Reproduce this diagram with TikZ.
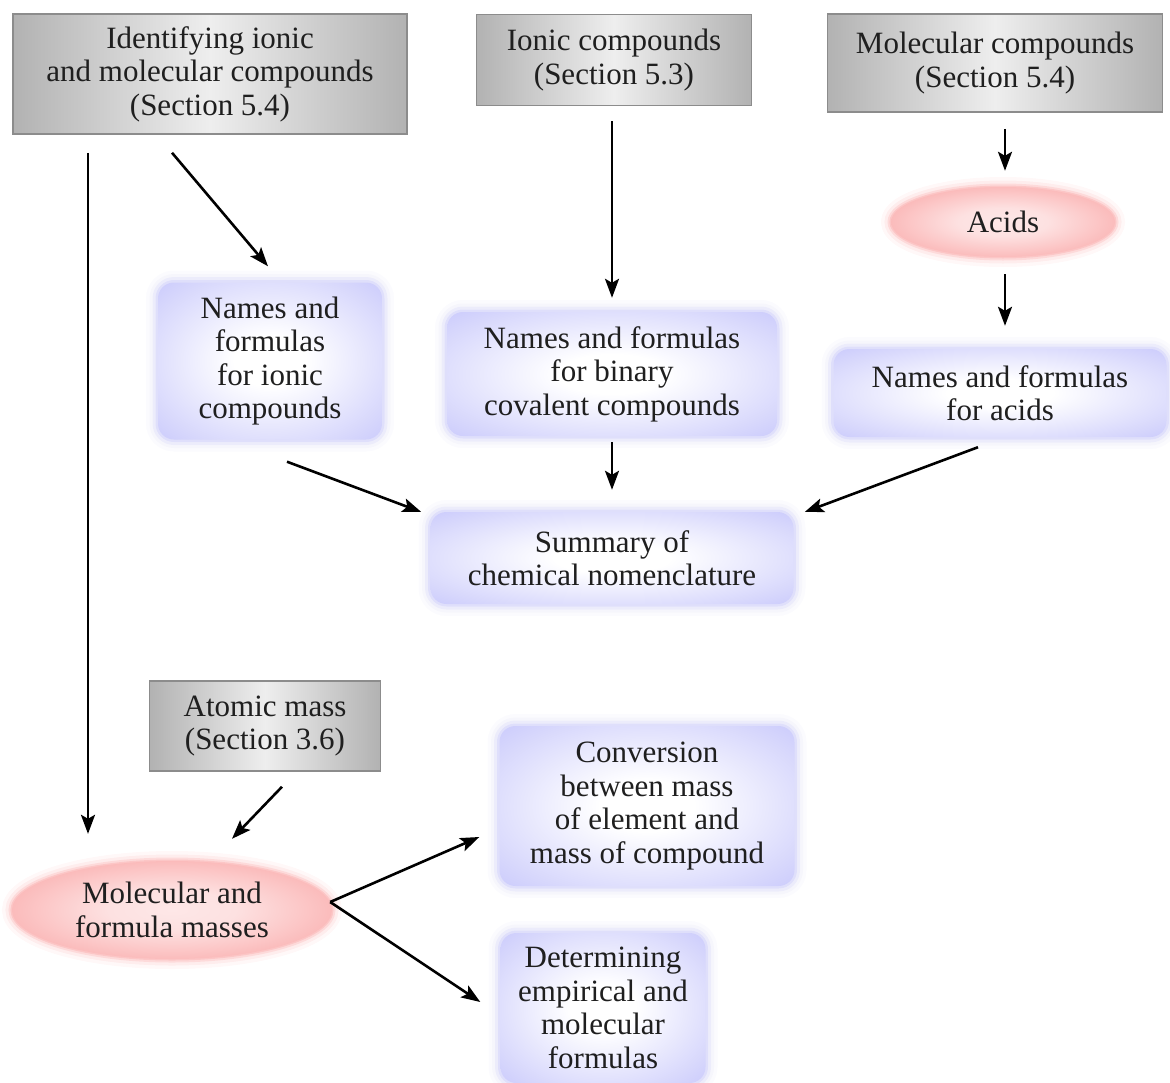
\documentclass[tikz,border=0pt]{standalone}
\usepackage{fontspec}
\setmainfont{Liberation Serif}
\usetikzlibrary{shapes.geometric,arrows.meta}
\definecolor{lav}{RGB}{184,184,250}
\definecolor{lavg}{RGB}{200,200,235}
\definecolor{pinkc}{RGB}{248,135,135}
\definecolor{grayd}{RGB}{178,178,178}
\definecolor{grayl}{RGB}{238,238,238}
\definecolor{grayb}{RGB}{140,140,140}
\pgfdeclareradialshading{bluesoft}{\pgfpoint{0bp}{0bp}}{color(0bp)=(white); color(8bp)=(white); color(46bp)=(lav); color(80bp)=(lav)}
\pgfdeclareradialshading{pinksoft}{\pgfpoint{0bp}{0bp}}{color(0bp)=(white!80!pinkc); color(10bp)=(white!75!pinkc); color(46bp)=(pinkc); color(80bp)=(pinkc)}
\tikzset{
  txt/.style={font=\fontsize{31}{33.5}\selectfont, text=black!88, align=center, inner sep=0pt},
  graybox/.style={txt, rectangle, draw=grayb, line width=1.5pt, left color=grayd, right color=grayd, middle color=grayl},
  bluebox/.style={txt, rectangle, rounded corners=16pt, shade, shading=bluesoft,
    preaction={draw=lavg, line width=24pt, draw opacity=0.07},
    preaction={draw=lavg, line width=17pt, draw opacity=0.1},
    preaction={draw=lav, line width=11pt, draw opacity=0.15},
    preaction={draw=lav, line width=5pt, draw opacity=0.25}},
  pinkell/.style={txt, ellipse, shade, shading=pinksoft,
    preaction={draw=pinkc, line width=20pt, draw opacity=0.06},
    preaction={draw=pinkc, line width=13pt, draw opacity=0.1},
    preaction={draw=pinkc, line width=7pt, draw opacity=0.18},
    preaction={draw=pinkc, line width=3pt, draw opacity=0.25}},
  arr/.style={-{Stealth[length=19pt,width=14pt,inset=4pt]}, line width=2.6pt, black}
}
\begin{document}
\begin{tikzpicture}[x=1pt,y=-1pt]
\useasboundingbox (0,0) rectangle (1170,1082);
\node[graybox, minimum width=394pt, minimum height=120pt] (A) at (210,74) {Identifying ionic\\and molecular compounds\\(Section 5.4)};
\node[graybox, minimum width=275pt, minimum height=91pt] (B) at (614,60) {Ionic compounds\\(Section 5.3)};
\node[graybox, minimum width=335pt, minimum height=98pt] (C) at (995,63) {Molecular compounds\\(Section 5.4)};
\node[graybox, minimum width=231pt, minimum height=90pt] (D) at (265,726) {Atomic mass\\(Section 3.6)};
\node[pinkell, minimum width=224pt, minimum height=70pt] (Acids) at (1003,222) {Acids};
\node[pinkell, minimum width=320pt, minimum height=98pt] (Mol) at (172,910) {Molecular and\\formula masses};
\node[bluebox, minimum width=224pt, minimum height=157pt] (IonN) at (270,361) {Names and\\formulas\\for ionic\\compounds};
\node[bluebox, minimum width=330pt, minimum height=124pt] (BinN) at (612,374) {Names and formulas\\for binary\\covalent compounds};
\node[bluebox, minimum width=333pt, minimum height=88pt] (AcN) at (1000,393) {Names and formulas\\for acids};
\node[bluebox, minimum width=363pt, minimum height=92pt] (Sum) at (612,558) {Summary of\\chemical nomenclature};
\node[bluebox, minimum width=295pt, minimum height=160pt] (Conv) at (647,806) {Conversion\\between mass\\of element and\\mass of compound};
\node[bluebox, minimum width=205pt, minimum height=150pt] (Det) at (603,1008) {Determining\\empirical and\\molecular\\formulas};

\draw[arr] ([xshift=-122pt,yshift=-18pt]A.south) -- ([xshift=-84pt,yshift=27pt]Mol.north);
\draw[arr] ([xshift=-38pt,yshift=-18pt]A.south) -- ([xshift=-2pt,yshift=16pt]IonN.north);
\draw[arr] ([xshift=-2pt,yshift=-15pt]B.south) -- ([yshift=14pt]BinN.north);
\draw[arr] ([xshift=10pt,yshift=-16pt]C.south) -- ([xshift=2pt,yshift=16pt]Acids.north);
\draw[arr] ([xshift=2pt,yshift=-17pt]Acids.south) -- ([xshift=5pt,yshift=23pt]AcN.north);
\draw[arr] ([xshift=17pt,yshift=-22pt]IonN.south) -- ([xshift=-9pt,yshift=46pt]Sum.west);
\draw[arr] ([yshift=-6pt]BinN.south) -- ([yshift=22pt]Sum.north);
\draw[arr] ([xshift=-22pt,yshift=-10pt]AcN.south) -- ([xshift=11pt,yshift=46pt]Sum.east);
\draw[arr] ([xshift=17pt,yshift=-15pt]D.south) -- ([xshift=60pt,yshift=22pt]Mol.north);
\draw[arr] ([xshift=-2pt,yshift=8pt]Mol.east) -- ([xshift=-20pt,yshift=-31pt]Conv.west);
\draw[arr] ([xshift=-2pt,yshift=8pt]Mol.east) -- ([xshift=-20pt,yshift=6pt]Det.west);
\end{tikzpicture}
\end{document}
